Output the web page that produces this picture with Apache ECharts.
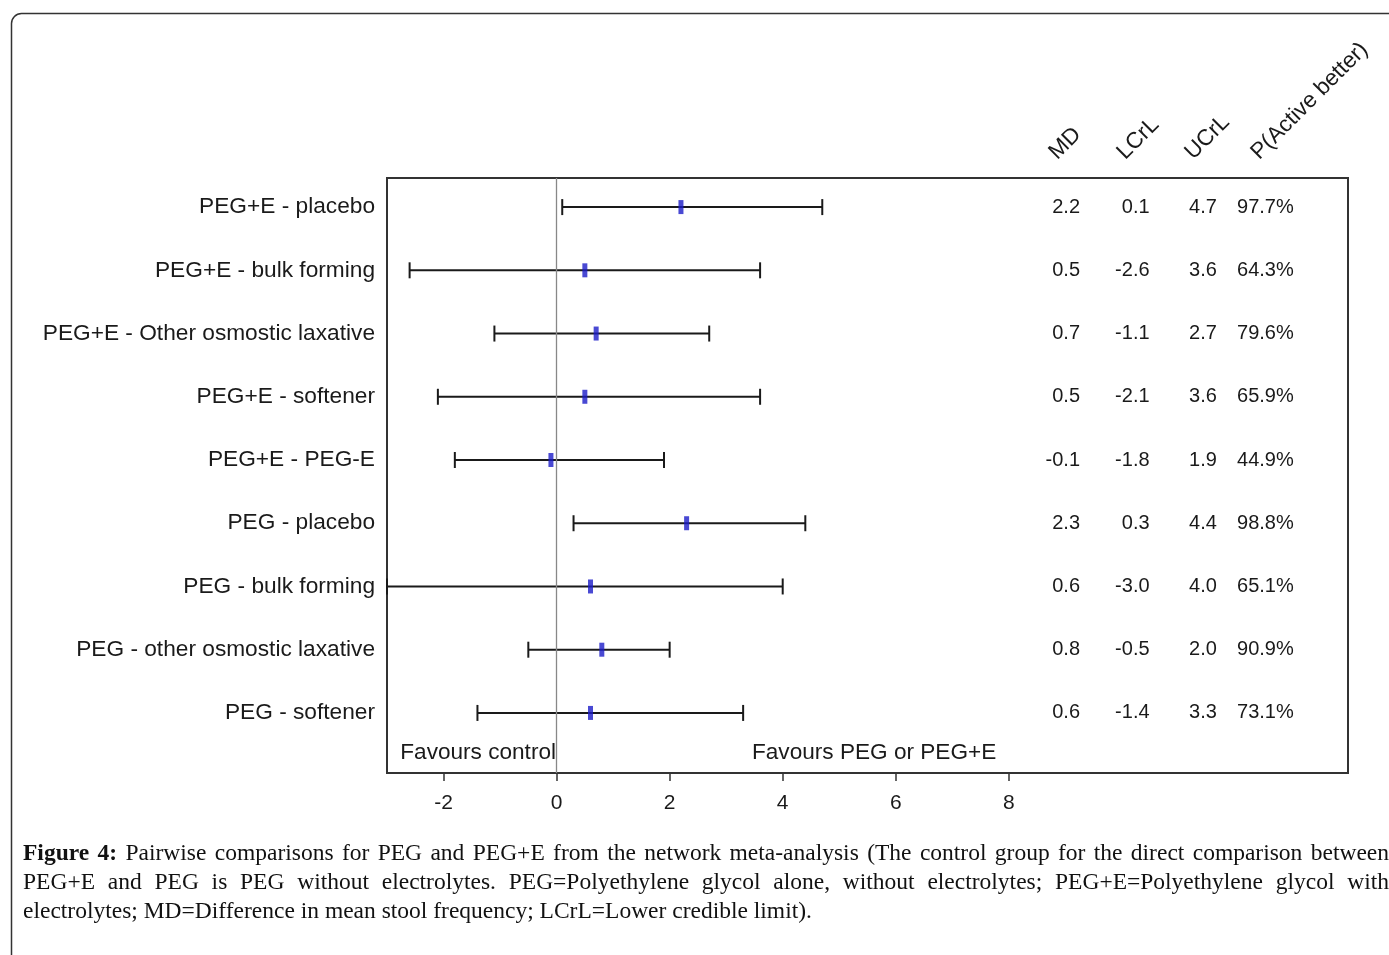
<!DOCTYPE html>
<html>
<head>
<meta charset="utf-8">
<script src="https://cdn.jsdelivr.net/npm/echarts@6/dist/echarts.min.js"></script>
<style>
  html, body { margin: 0; padding: 0; background: #fff; }
  #chart { position: absolute; left: 0; top: 0; width: 1389px; height: 955px; }
  #caption { position: absolute; left: 23px; top: 838px; width: 1366px;
    font-family: "Liberation Serif", "DejaVu Serif", serif; font-size: 23.5px;
    line-height: 29px; color: #111; }
  #caption .j { text-align: justify; text-align-last: justify; white-space: nowrap; }
  #caption .l { text-align: left; white-space: nowrap; }
</style>
</head>
<body>
<div id="chart"></div>
<div id="caption">
  <div class="j"><b>Figure 4:</b> Pairwise comparisons for PEG and PEG+E from the network meta-analysis (The control group for the direct comparison between</div>
  <div class="j">PEG+E and PEG is PEG without electrolytes. PEG=Polyethylene glycol alone, without electrolytes; PEG+E=Polyethylene glycol with</div>
  <div class="l">electrolytes; MD=Difference in mean stool frequency; LCrL=Lower credible limit).</div>
</div>
<script>
// ---- data ----
const comparisons = [
  "PEG+E - placebo",
  "PEG+E - bulk forming",
  "PEG+E - Other osmostic laxative",
  "PEG+E - softener",
  "PEG+E - PEG-E",
  "PEG - placebo",
  "PEG - bulk forming",
  "PEG - other osmostic laxative",
  "PEG - softener"
];
const md   = [2.2, 0.5, 0.7, 0.5, -0.1, 2.3, 0.6, 0.8, 0.6];
const lcrl = [0.1, -2.6, -1.1, -2.1, -1.8, 0.3, -3.0, -0.5, -1.4];
const ucrl = [4.7, 3.6, 2.7, 3.6, 1.9, 4.4, 4.0, 2.0, 3.3];
const pActive = ["97.7%", "64.3%", "79.6%", "65.9%", "44.9%", "98.8%", "65.1%", "90.9%", "73.1%"];
const columnHeaders = ["MD", "LCrL", "UCrL", "P(Active better)"];
const xTicks = [-2, 0, 2, 4, 6, 8];
const favoursLeft = "Favours control";
const favoursRight = "Favours PEG or PEG+E";

// ---- build ----
const rows = comparisons.map((c, i) => i + 1);
const barData = rows.map((r, i) => [lcrl[i], ucrl[i], r]);
const pointData = rows.map((r, i) => [md[i], r]);
const tableData = rows.map((r, i) => [r, md[i].toFixed(1), lcrl[i].toFixed(1), ucrl[i].toFixed(1), pActive[i]]);
const colRightX = [9.26, 10.49, 11.68, 13.04]; // column right edges in axis units

const chart = echarts.init(document.getElementById('chart'));
const FONT = '"Liberation Sans", Arial, sans-serif';

const option = {
  animation: false,
  backgroundColor: '#fff',
  grid: {
    left: 387, right: 41, top: 178, bottom: 182,
    show: true, borderColor: '#333', borderWidth: 2, backgroundColor: 'transparent',
    containLabel: false, outerBoundsMode: 'none'
  },
  xAxis: {
    type: 'value', min: -3, max: 14,
    axisLine: { show: false },
    splitLine: { show: false },
    axisTick: { show: true, customValues: xTicks, length: 8, lineStyle: { color: '#333', width: 1.5 } },
    axisLabel: { customValues: xTicks, fontFamily: FONT, fontSize: 21, color: '#1a1a1a', margin: 20 }
  },
  yAxis: {
    type: 'value', inverse: true, min: 0.54, max: 9.95,
    axisLine: { show: false }, axisTick: { show: false }, splitLine: { show: false },
    axisLabel: {
      customValues: rows, fontFamily: FONT, fontSize: 22.7, color: '#1a1a1a', margin: 12,
      formatter: v => comparisons[Math.round(v) - 1] || ''
    }
  },
  graphic: [
    { type: 'rect', shape: { x: 11.5, y: 13.5, width: 1420, height: 1000, r: 10 },
      style: { fill: 'none', stroke: '#333', lineWidth: 1.5 }, silent: true, z: -1 },
    ...columnHeaders.map((h, i) => ({
      type: 'text', x: [1061, 1129, 1197, 1263][i], y: 164, rotation: Math.PI / 4,
      style: { text: h, fontFamily: FONT, fontSize: 22.5, fill: '#1a1a1a', textAlign: 'left', textVerticalAlign: 'bottom' }
    })),
    { type: 'text', x: 556, y: 753, style: { text: favoursLeft, fontFamily: FONT, fontSize: 22.6, fill: '#1a1a1a', textAlign: 'right', textVerticalAlign: 'middle' } },
    { type: 'text', x: 752, y: 753, style: { text: favoursRight, fontFamily: FONT, fontSize: 22.6, fill: '#1a1a1a', textAlign: 'left', textVerticalAlign: 'middle' } }
  ],
  series: [
    {
      type: 'custom', name: 'interval',
      data: barData,
      encode: { x: [0, 1], y: 2 },
      renderItem: (params, api) => {
        const a = api.coord([api.value(0), api.value(2)]);
        const b = api.coord([api.value(1), api.value(2)]);
        const h = 8;
        const ls = { stroke: '#1a1a1a', lineWidth: 2 };
        return { type: 'group', children: [
          { type: 'line', shape: { x1: a[0], y1: a[1], x2: b[0], y2: b[1] }, style: ls },
          { type: 'line', shape: { x1: a[0], y1: a[1] - h, x2: a[0], y2: a[1] + h }, style: ls },
          { type: 'line', shape: { x1: b[0], y1: b[1] - h, x2: b[0], y2: b[1] + h }, style: ls }
        ]};
      },
      markLine: {
        silent: true, symbol: 'none', label: { show: false },
        lineStyle: { color: '#888', width: 1.3, type: 'solid' },
        data: [{ xAxis: 0 }]
      },
      z: 2
    },
    {
      type: 'scatter', name: 'MD', data: pointData,
      symbol: 'rect', symbolSize: [5, 14],
      itemStyle: { color: '#1c1cc8' }, z: 3
    },
    {
      type: 'custom', name: 'table', data: tableData,
      encode: { y: 0 },
      renderItem: (params, api) => {
        const r = api.value(0);
        const d = tableData[params.dataIndex];
        return { type: 'group', children: colRightX.map((cx, k) => {
          const p = api.coord([cx, r]);
          return { type: 'text', x: p[0], y: p[1],
            style: { text: String(d[k + 1]), fontFamily: FONT, fontSize: 20, fill: '#1a1a1a', textAlign: 'right', textVerticalAlign: 'middle' } };
        })};
      },
      z: 3
    }
  ]
};
chart.setOption(option);
</script>
</body>
</html>
